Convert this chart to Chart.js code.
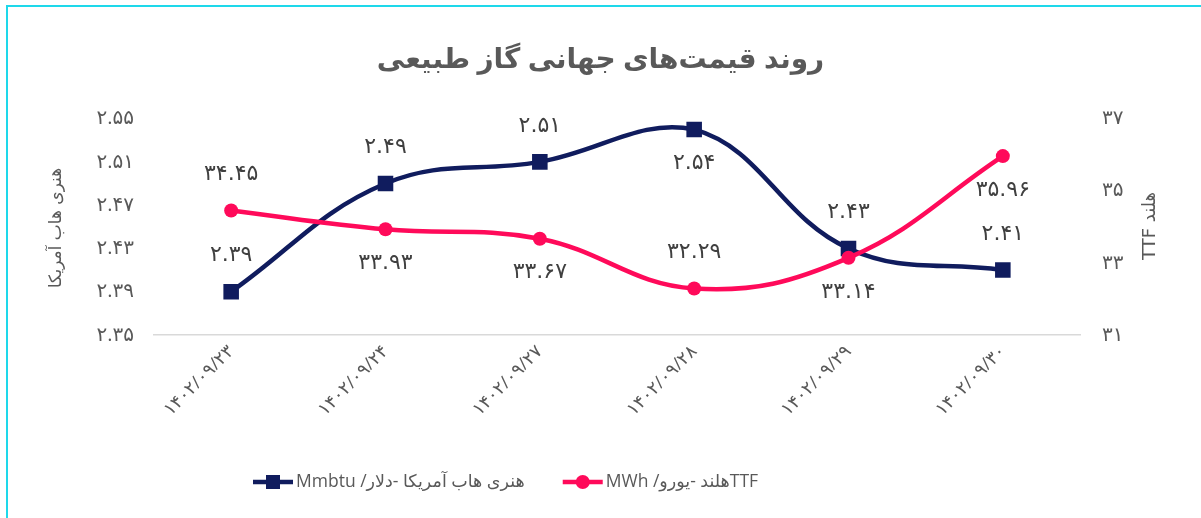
<!DOCTYPE html>
<html>
<head>
<meta charset="utf-8">
<script src="https://cdn.jsdelivr.net/npm/chart.js@4"></script>
<style>
    html, body { margin: 0; padding: 0; background: #fff; overflow: hidden; }
    canvas { display: block; }
</style>
</head>
<body>
<canvas id="gasChart" width="1201" height="518"></canvas>
<script>
// data
const dates = ['۱۴۰۲/۰۹/۲۳', '۱۴۰۲/۰۹/۲۴', '۱۴۰۲/۰۹/۲۷', '۱۴۰۲/۰۹/۲۸', '۱۴۰۲/۰۹/۲۹', '۱۴۰۲/۰۹/۳۰'];
const henryHub = [2.39, 2.49, 2.51, 2.54, 2.43, 2.41];
const ttf = [34.45, 33.93, 33.67, 32.29, 33.14, 35.96];

// where each value label sits relative to its point
const henryHubLabelSide = ['top', 'top', 'top', 'bottom', 'top', 'top'];
const ttfLabelSide = ['top', 'bottom', 'bottom', 'top', 'bottom', 'bottom'];

const FONT = '"Open Sans", "DejaVu Sans", sans-serif';
const NAVY = '#101c5e';
const PINK = '#ff0a5a';
const GREY = '#595959';

// persian digits
function fa(s) {
    return String(s).replace(/\d/g, d => '۰۱۲۳۴۵۶۷۸۹'[d]);
}

// cyan frame, only top and left edges show in the crop
const frame = {
    id: 'frame',
    beforeDraw(chart) {
        const ctx = chart.ctx;
        ctx.save();
        ctx.strokeStyle = '#1ed8ea';
        ctx.lineWidth = 2;
        ctx.beginPath();
        ctx.moveTo(7, chart.height);
        ctx.lineTo(7, 6);
        ctx.lineTo(chart.width, 6);
        ctx.stroke();
        ctx.restore();
    }
};

// value labels over/under points
const valueLabels = {
    id: 'valueLabels',
    afterDatasetsDraw(chart) {
        const ctx = chart.ctx;
        const sides = [henryHubLabelSide, ttfLabelSide];
        ctx.save();
        ctx.font = '22px "DejaVu Sans"';
        ctx.fillStyle = '#404040';
        ctx.textAlign = 'center';
        ctx.textBaseline = 'middle';
        chart.data.datasets.forEach((ds, i) => {
            const meta = chart.getDatasetMeta(i);
            meta.data.forEach((pt, j) => {
                const dy = sides[i][j] === 'top' ? -36 : 34;
                ctx.fillText(fa(ds.data[j].toFixed(2)), pt.x, pt.y + dy);
            });
        });
        ctx.restore();
    }
};

// rotated axis titles (both read bottom to top)
const axisTitles = {
    id: 'axisTitles',
    afterDraw(chart) {
        const ctx = chart.ctx;
        ctx.save();
        ctx.direction = 'ltr';
        ctx.fillStyle = GREY;
        ctx.textAlign = 'center';
        ctx.textBaseline = 'middle';
        ctx.font = '17px "DejaVu Sans"';
        ctx.translate(57, 228);
        ctx.rotate(-Math.PI / 2);
        ctx.fillText('هنری هاب آمریکا', 0, 0);
        ctx.restore();

        ctx.save();
        ctx.direction = 'ltr';
        ctx.fillStyle = GREY;
        ctx.textAlign = 'center';
        ctx.textBaseline = 'middle';
        ctx.font = '18px "DejaVu Sans"';
        ctx.translate(1150, 226);
        ctx.rotate(-Math.PI / 2);
        ctx.fillText('TTF هلند', 0, 0);
        ctx.restore();
    }
};

// legend drawn by hand: line with marker, then rtl text
const lineLegend = {
    id: 'lineLegend',
    afterDraw(chart) {
        const ctx = chart.ctx;
        const y = 482;
        let x = 253;
        ctx.save();
        ctx.font = '17.5px ' + FONT;
        ctx.textBaseline = 'middle';
        chart.data.datasets.forEach(ds => {
            const xm = x + 20;
            ctx.strokeStyle = ds.borderColor;
            ctx.fillStyle = ds.borderColor;
            ctx.lineWidth = 4.5;
            ctx.beginPath();
            ctx.moveTo(x, y);
            ctx.lineTo(x + 40, y);
            ctx.stroke();
            if (ds.pointStyle === 'rect') {
                ctx.fillRect(xm - 7, y - 7, 14, 14);
            } else {
                ctx.beginPath();
                ctx.arc(xm, y, 7, 0, Math.PI * 2);
                ctx.fill();
            }
            ctx.fillStyle = GREY;
            ctx.direction = 'rtl';
            ctx.textAlign = 'left';
            ctx.fillText(ds.label, x + 43, y);
            ctx.direction = 'ltr';
            x += 43 + ctx.measureText(ds.label).width + 38;
        });
        ctx.restore();
    }
};

new Chart(document.getElementById('gasChart').getContext('2d'), {
    type: 'line',
    data: {
        labels: dates,
        datasets: [{
            label: 'هنری هاب آمریکا -دلار/ Mmbtu',
            data: henryHub,
            yAxisID: 'y',
            borderColor: NAVY,
            backgroundColor: NAVY,
            borderWidth: 4.5,
            tension: 0.4,
            pointStyle: 'rect',
            pointRadius: 11,
            pointBorderWidth: 0,
            order: 1
        }, {
            label: 'TTFهلند -یورو/ MWh',
            data: ttf,
            yAxisID: 'y1',
            borderColor: PINK,
            backgroundColor: PINK,
            borderWidth: 4.5,
            tension: 0.4,
            pointStyle: 'circle',
            pointRadius: 7,
            pointBorderWidth: 0,
            order: 0
        }]
    },
    options: {
        responsive: false,
        animation: false,
        layout: { padding: { left: 0, right: 0, top: 0, bottom: 0 } },
        scales: {
            x: {
                offset: true,
                grid: { display: false, offset: true, drawTicks: false },
                border: { display: true, color: '#d9d9d9', width: 1.5 },
                ticks: {
                    color: GREY,
                    font: { family: FONT, size: 18 },
                    minRotation: 45,
                    maxRotation: 45,
                    padding: 6
                },
                afterFit: s => { s.height = 183; }
            },
            y: {
                position: 'left',
                min: 2.35,
                max: 2.55,
                grid: { display: false },
                border: { display: false },
                ticks: {
                    stepSize: 0.04,
                    color: GREY,
                    font: { family: FONT, size: 20 },
                    padding: 12,
                    callback: v => fa(v.toFixed(2))
                },
                afterFit: s => { s.width = 154; }
            },
            y1: {
                position: 'right',
                min: 31,
                max: 37,
                grid: { display: false },
                border: { display: false },
                ticks: {
                    stepSize: 2,
                    color: GREY,
                    font: { family: FONT, size: 20 },
                    padding: 14,
                    callback: v => fa(v)
                },
                afterFit: s => { s.width = 121; }
            }
        },
        plugins: {
            title: {
                display: true,
                text: 'روند قیمت‌های جهانی گاز طبیعی',
                color: GREY,
                font: { family: FONT, size: 28, weight: 'bold' },
                padding: { top: 43, bottom: 42 }
            },
            legend: { display: false },
            tooltip: { enabled: false }
        }
    },
    plugins: [frame, valueLabels, axisTitles, lineLegend]
});
</script>
</body>
</html>
